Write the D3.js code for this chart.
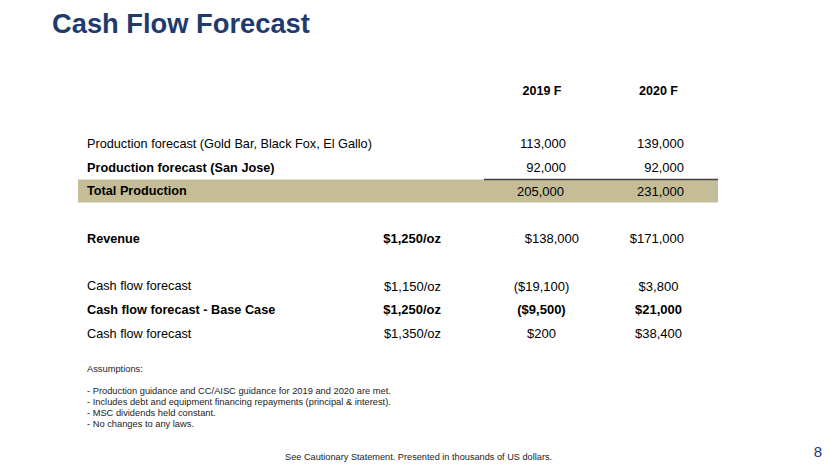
<!DOCTYPE html>
<html><head><meta charset="utf-8">
<script src="https://cdn.jsdelivr.net/npm/d3@7"></script>
<style>body{margin:0;background:#fff}svg{display:block}</style>
</head><body>
<svg id="c" width="830" height="467"></svg>
<script>
const title = "Cash Flow Forecast";
const columns = ["2019 F", "2020 F"];
const rowLabels = ["Production forecast (Gold Bar, Black Fox, El Gallo)", "Production forecast (San Jose)", "Total Production", "Revenue", "Cash flow forecast", "Cash flow forecast - Base Case", "Cash flow forecast"];
const rowBold = [false, true, true, true, false, true, false];
const rowSlot = [0, 1, 2, 4, 6, 7, 8];
const rowKind = ["prod", "prod", "total", "rev", "cash", "cash", "cash"];
const prices = ["", "", "", "$1,250/oz", "$1,150/oz", "$1,250/oz", "$1,350/oz"];
const values2019 = ["113,000", "92,000", "205,000", "$138,000", "($19,100)", "($9,500)", "$200"];
const values2020 = ["139,000", "92,000", "231,000", "$171,000", "$3,800", "$21,000", "$38,400"];
const assumptions = ["Assumptions:", "", "- Production guidance and CC/AISC guidance for 2019 and 2020 are met.", "- Includes debt and equipment financing repayments (principal & interest).", "- MSC dividends held constant.", "- No changes to any laws."];
const footer = "See Cautionary Statement. Presented in thousands of US dollars.";
const pageNum = "8";

const svg = d3.select("#c");
const font = "Liberation Sans, Arial, sans-serif";
const y = d3.scaleLinear().domain([0, 8]).range([143.5, 333.5]);
const x = d3.scalePoint().domain(columns).range([542, 658.5]);

// alignment per row kind: [x2019, anchor2019, x2020, anchor2020]
const align = {
  prod:  [566, "end", 684, "end"],
  total: [564, "end", 684, "end"],
  rev:   [579, "end", 684, "end"],
  cash:  [x(columns[0]) - 0.5, "middle", x(columns[1]), "middle"]
};

svg.append("text").attr("x", 52).attr("y", 33).attr("font-family", font)
  .attr("font-size", 27.3).attr("font-weight", "bold").attr("fill", "#1F3B6E").text(title);

// total band
svg.append("rect").attr("x", 78).attr("y", y(2) - 11.5).attr("width", 640).attr("height", 23).attr("fill", "#C4BD97");
svg.append("line").attr("x1", 484).attr("x2", 718).attr("y1", y(2) - 11.5).attr("y2", y(2) - 11.5)
  .attr("stroke", "#404040").attr("stroke-width", 1.5);

svg.selectAll("text.hdr").data(columns).join("text").attr("class", "hdr")
  .attr("x", d => x(d)).attr("y", 90.5).attr("dy", "0.35em").attr("text-anchor", "middle")
  .attr("font-family", font).attr("font-size", 12.5).attr("font-weight", "bold").attr("fill", "#000").text(d => d);

const rows = rowLabels.map((l, i) => ({l, i, b: rowBold[i], s: rowSlot[i], k: rowKind[i], p: prices[i], v1: values2019[i], v2: values2020[i]}));
const g = svg.selectAll("g.row").data(rows).join("g").attr("class", "row")
  .attr("transform", d => `translate(0,${y(d.s)})`)
  .attr("font-family", font).attr("font-size", 13).attr("fill", "#000");

g.append("text").attr("x", 87).attr("dy", "0.35em").attr("font-size", 12.7)
  .attr("font-weight", d => d.b ? "bold" : "normal").text(d => d.l);
g.append("text").attr("x", 441).attr("dy", "0.35em").attr("text-anchor", "end")
  .attr("font-weight", d => d.b ? "bold" : "normal").text(d => d.p);
g.append("text").attr("x", d => align[d.k][0]).attr("dy", "0.35em")
  .attr("text-anchor", d => align[d.k][1])
  .attr("font-weight", d => d.b && d.k === "cash" ? "bold" : "normal").text(d => d.v1);
g.append("text").attr("x", d => align[d.k][2]).attr("dy", "0.35em")
  .attr("text-anchor", d => align[d.k][3])
  .attr("font-weight", d => d.b && d.k === "cash" ? "bold" : "normal").text(d => d.v2);

const ay = d3.scaleLinear().domain([0, 5]).range([369, 424]);
svg.selectAll("text.asm").data(assumptions).join("text").attr("class", "asm")
  .attr("x", 87).attr("y", (d, i) => ay(i)).attr("dy", "0.35em")
  .attr("font-family", font).attr("font-size", 9.3).attr("fill", "#222").text(d => d);

svg.append("text").attr("x", 285).attr("y", 457).attr("dy", "0.35em").attr("font-family", font)
  .attr("font-size", 9.2).attr("fill", "#222").text(footer);
svg.append("text").attr("x", 822).attr("y", 452).attr("dy", "0.35em").attr("text-anchor", "end").attr("font-family", font)
  .attr("font-size", 15).attr("fill", "#1F3B6E").text(pageNum);
</script>
</body></html>
